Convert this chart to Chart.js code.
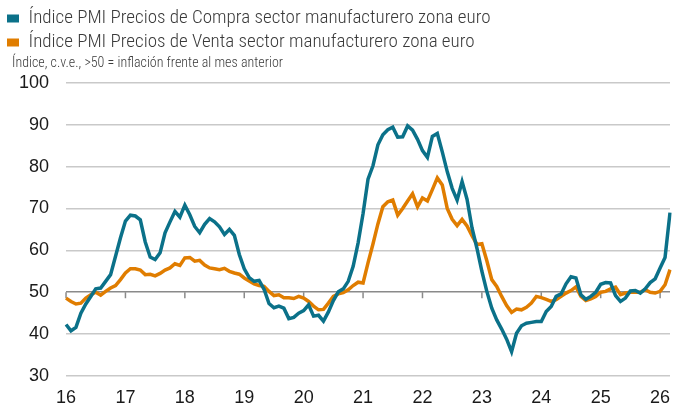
<!DOCTYPE html>
<html lang="es">
<head>
  <meta charset="UTF-8">
  <title>Índice PMI Precios zona euro</title>
  <script src="https://cdn.jsdelivr.net/npm/chart.js"></script>
  <style>
    body { margin: 0; background: #fff; }
    #wrap { width: 686px; height: 411px; }
  </style>
</head>
<body>
<div id="wrap">
  <canvas id="pmiChart"></canvas>
</div>

<script>
  // años del eje x (enero de cada año)
  const yearLabels = ['16', '17', '18', '19', '20', '21', '22', '23', '24', '25', '26'];

  // Índice PMI Precios de Compra (mensual, ene 2016 - mar 2026)
  const preciosCompra = [
    42.3, 40.8, 41.6, 45.0, 47.2, 49.0, 50.8, 51.0, 52.6, 54.2, 58.6, 63.0,
    67.0, 68.4, 68.2, 67.3, 62.0, 58.4, 57.8, 59.4, 64.2, 66.8, 69.3, 67.9,
    70.8, 68.5, 65.7, 64.2, 66.2, 67.6, 66.8, 65.6, 63.8, 65.0, 63.6, 59.0,
    55.6, 53.5, 52.6, 52.8, 50.7, 47.3, 46.3, 46.7, 46.2, 43.7, 44.0, 45.0,
    45.6, 47.0, 44.3, 44.5, 43.1, 45.3, 48.0, 50.1, 50.8, 52.6, 56.2, 61.8,
    68.8, 77.0, 80.2, 85.2, 87.6, 88.8, 89.4, 87.0, 87.1, 89.7, 88.7, 86.5,
    83.8, 82.2, 87.2, 87.9, 83.5, 78.8, 74.8, 72.0, 76.4, 72.2, 65.4, 60.5,
    55.0, 50.2, 46.2, 43.4, 41.2, 38.8, 35.8, 40.2, 42.0, 42.6, 42.8, 43.0,
    43.0, 45.4, 46.6, 49.0, 49.6, 52.0, 53.7, 53.4, 49.4, 48.3, 49.0, 50.0,
    51.9, 52.3, 52.2, 49.2, 47.8, 48.6, 50.3, 50.4, 49.8, 50.8, 52.3, 53.2,
    55.8, 58.3, 69.0
  ];

  // Índice PMI Precios de Venta
  const preciosVenta = [
    48.6, 47.8, 47.2, 47.4, 48.6, 49.4, 50.0, 49.3, 50.2, 51.0, 51.6, 53.0,
    54.6, 55.6, 55.6, 55.3, 54.2, 54.3, 53.9, 54.5, 55.3, 55.8, 56.8, 56.4,
    58.2, 58.3, 57.4, 57.6, 56.5, 55.8, 55.6, 55.4, 55.7, 55.0, 54.6, 54.3,
    53.4, 52.7, 52.0, 51.6, 51.4, 50.2, 49.2, 49.4, 48.7, 48.7, 48.5, 49.0,
    48.6, 47.8, 46.7, 45.8, 45.9, 47.4, 49.0, 49.6, 49.9, 50.6, 51.6, 52.4,
    52.2, 57.0, 61.5, 66.3, 70.4, 71.6, 72.0, 68.4, 70.0, 71.8, 73.5, 70.4,
    72.5, 71.8, 74.5, 77.3, 75.6, 70.0, 67.4, 65.9, 67.4, 65.8, 63.5, 61.4,
    61.6, 57.5, 53.0, 51.4, 49.0, 46.8, 45.2, 46.0, 45.8, 46.4, 47.4, 49.0,
    48.7, 48.3, 47.8, 48.2, 49.0, 49.8, 50.4, 51.3, 49.0, 48.0, 48.4, 49.0,
    50.0, 50.2, 50.8, 51.2, 49.4, 49.8, 50.0, 50.0, 50.0, 50.6, 50.0, 49.8,
    50.2, 51.8, 55.4
  ];

  const colorCompra = '#0b7189';
  const colorVenta = '#e07d00';
  const subtitleText = 'Índice, c.v.e., >50 = inflación frente al mes anterior';

  // etiquetas mensuales: año-mes
  const labels = preciosCompra.map((v, i) => yearLabels[Math.floor(i / 12)] + '-' + (i % 12 + 1));

  // marcas pequeñas de los años sobre la línea de 50
  const yearTicks = {
    id: 'yearTicks',
    beforeDatasetsDraw(chart) {
      const x = chart.scales.x, y = chart.scales.y;
      const y50 = y.getPixelForValue(50);
      const c = chart.ctx;
      c.save();
      c.strokeStyle = '#8a8a8a';
      c.lineWidth = 1.5;
      x.ticks.forEach(t => {
        const px = x.getPixelForValue(t.value);
        c.beginPath();
        c.moveTo(px, y50);
        c.lineTo(px, y50 + 6);
        c.stroke();
      });
      c.restore();
    }
  };

  // mover el subtítulo un poco a la derecha
  const subtitleShift = {
    id: 'subtitleShift',
    afterLayout(chart) {
      const b = chart.boxes.find(b => b.options && b.options.text === subtitleText);
      if (b) { b.left += 10; b.right += 10; }
    }
  };

  const ctx = document.getElementById('pmiChart').getContext('2d');
  new Chart(ctx, {
    type: 'line',
    data: {
      labels: labels,
      datasets: [{
        label: 'Índice PMI Precios de Compra sector manufacturero zona euro',
        data: preciosCompra,
        borderColor: colorCompra,
        backgroundColor: colorCompra,
        borderWidth: 3.5,
        pointRadius: 0,
        tension: 0
      }, {
        label: 'Índice PMI Precios de Venta sector manufacturero zona euro',
        data: preciosVenta,
        borderColor: colorVenta,
        backgroundColor: colorVenta,
        borderWidth: 3.5,
        pointRadius: 0,
        tension: 0
      }]
    },
    options: {
      responsive: true,
      maintainAspectRatio: false,
      animation: false,
      layout: { padding: { left: 2, right: 16, top: 4, bottom: 0 } },
      plugins: {
        legend: {
          align: 'start',
          weight: 3000,
          labels: {
            boxWidth: 12,
            boxHeight: 8,
            padding: 5,
            color: '#3a3a3a',
            font: { family: 'Roboto Condensed', size: 19, weight: 300 },
            generateLabels: chart => Chart.defaults.plugins.legend.labels.generateLabels(chart)
              .map(l => ({ ...l, lineWidth: 0 }))
          }
        },
        subtitle: {
          display: true,
          text: subtitleText,
          align: 'start',
          color: '#3a3a3a',
          font: { family: 'Roboto Condensed', size: 14, weight: 300 },
          padding: { top: -7, bottom: 11 }
        },
        tooltip: { enabled: false }
      },
      scales: {
        x: {
          grid: { display: false, drawTicks: false },
          border: { display: false },
          afterFit: scale => { scale.height = 35; },
          ticks: {
            autoSkip: false,
            maxRotation: 0,
            padding: 11,
            color: '#1a1a1a',
            font: { family: 'Liberation Sans', size: 18 },
            callback: (v, i) => i % 12 === 0 ? yearLabels[i / 12] : null
          }
        },
        y: {
          min: 30,
          max: 100,
          border: { display: false },
          grid: {
            drawTicks: false,
            lineWidth: 1.5,
            color: c => c.tick && c.tick.value === 50 ? '#8a8a8a' : '#c9c9c9'
          },
          ticks: {
            stepSize: 10,
            padding: 17,
            color: '#1a1a1a',
            font: { family: 'Liberation Sans', size: 18 }
          }
        }
      }
    },
    plugins: [yearTicks, subtitleShift]
  });
</script>
</body>
</html>
